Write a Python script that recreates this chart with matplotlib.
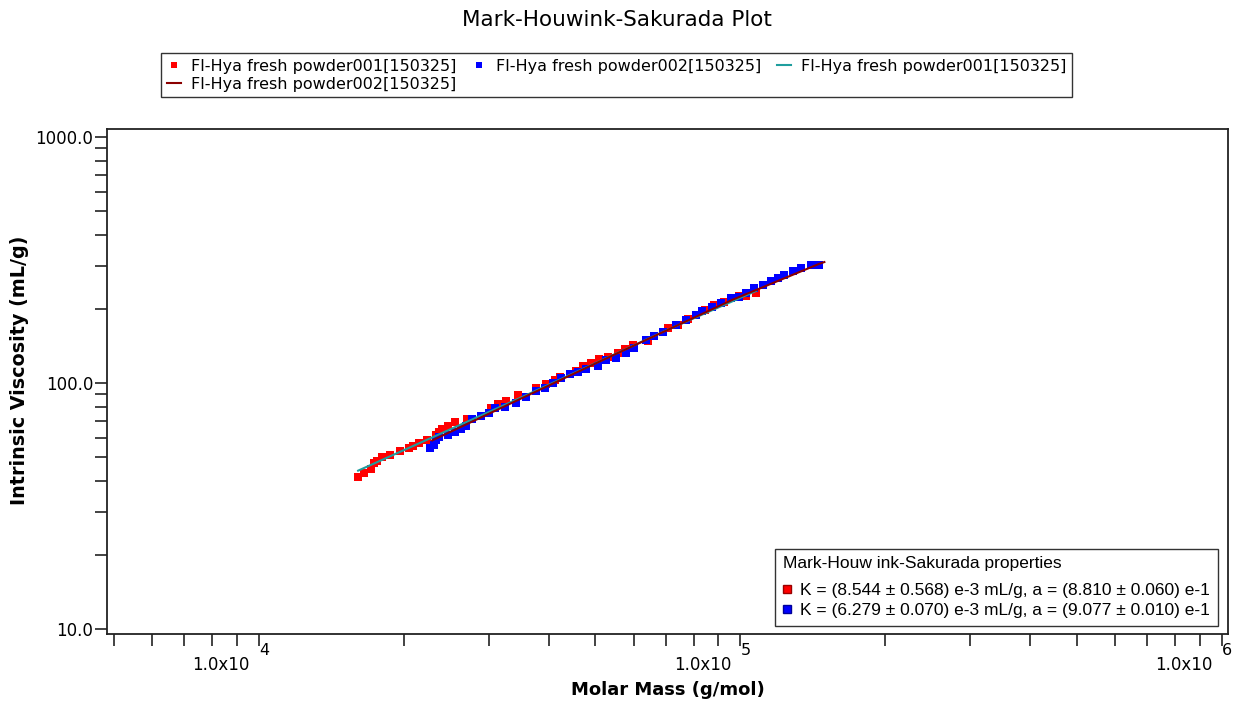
import matplotlib
matplotlib.use('Agg')
import matplotlib.pyplot as plt
import matplotlib.transforms as mtransforms
from matplotlib.lines import Line2D
from matplotlib.ticker import FixedLocator, LogLocator, NullFormatter

# data
mass_001 = [16070, 16510, 17080, 17350, 17630, 18020, 18700, 19610, 20470, 20890,
            21500, 22340, 23370, 23660, 24050, 24700, 25540, 27050, 30400, 31370,
            32540, 34510, 37690, 39540, 41130, 42130, 45470, 47080, 49010, 50750,
            53050, 55640, 57450, 59780, 64230, 70670, 74130, 77750, 84600, 88320,
            92640, 99520, 102750, 107800]
iv_001 = [41.7, 43.3, 44.7, 47.3, 48.3, 49.9, 51.1, 53.1, 54.4, 55.3,
          57.0, 58.7, 61.6, 63.6, 65.0, 67.1, 69.4, 71.6, 79.1, 82.4,
          85.0, 89.6, 96.0, 99.4, 103.1, 106.4, 112.2, 117.6, 120.6, 125.2,
          128.3, 132.4, 137.5, 143.1, 149.0, 167.4, 172.6, 182.0, 198.6, 208.1,
          212.7, 226.4, 226.4, 232.2]

mass_002 = [22630, 23100, 23370, 23660, 24700, 25500, 26330, 26970, 27760, 28970,
            30040, 30870, 32390, 34250, 35930, 37690, 39220, 40800, 42340, 44180,
            45980, 47860, 50580, 52640, 55050, 57730, 60060, 63740, 66310, 69000,
            73570, 77160, 80930, 83280, 87350, 91200, 95660, 99520, 102750, 106900,
            111240, 115800, 119510, 123400, 128400, 133650, 140220, 145900]
iv_002 = [54.4, 56.1, 58.8, 60.3, 61.6, 63.6, 65.0, 67.1, 71.4, 73.6,
          75.5, 79.1, 80.3, 82.9, 88.2, 92.5, 95.4, 100.6, 104.8, 108.8,
          111.5, 114.0, 117.6, 124.4, 126.4, 132.4, 138.8, 150.0, 154.7, 162.1,
          172.6, 180.9, 189.5, 195.5, 204.8, 211.5, 221.5, 224.9, 232.2, 243.3,
          250.9, 258.8, 267.2, 275.6, 284.2, 293.4, 302.6, 302.6]

fit_mass_001 = [16070, 34800, 70000, 107800]
fit_iv_001 = [44.1, 86.9, 163.5, 237.0]
fit_mass_002 = [22900, 50990, 96390, 145900, 149400]
fit_iv_002 = [58.5, 122.4, 218.3, 305.5, 310.4]

series_names = ['Fl-Hya fresh powder001[150325]', 'Fl-Hya fresh powder002[150325]']
mhs_title = 'Mark-Houw ink-Sakurada properties'
mhs_labels = ['K = (8.544 ± 0.568) e-3 mL/g, a = (8.810 ± 0.060) e-1',
              'K = (6.279 ± 0.070) e-3 mL/g, a = (9.077 ± 0.010) e-1']
x_major = [1e4, 1e5, 1e6]
x_exponents = ['4', '5', '6']
y_major = [10, 100, 1000]
y_labels = ['10.0', '100.0', '1000.0']

red = '#ff0000'
blue = '#0000ff'
teal = '#1f9e9e'
darkred = '#8b0000'
edge = '#222222'

fig = plt.figure(figsize=(12.34, 7.01), dpi=100)
ax = fig.add_axes([0.0865, 0.0956, 0.9087, 0.72])

ax.plot(mass_001, iv_001, ls='none', marker='s', ms=5.8, mew=0, color=red)
ax.plot(mass_002, iv_002, ls='none', marker='s', ms=5.8, mew=0, color=blue)
ax.plot(fit_mass_001, fit_iv_001, color=teal, lw=1.5)
ax.plot(fit_mass_002, fit_iv_002, color=darkred, lw=1.5)

ax.set_xscale('log')
ax.set_yscale('log')
ax.set_xlim(4830, 1.03e6)
ax.set_ylim(9.57, 1075)

ax.xaxis.set_major_locator(FixedLocator(x_major))
ax.xaxis.set_major_formatter(NullFormatter())
ax.xaxis.set_minor_locator(LogLocator(base=10, subs=range(2, 10)))
ax.xaxis.set_minor_formatter(NullFormatter())
ax.yaxis.set_major_locator(FixedLocator(y_major))
ax.set_yticklabels(y_labels)
ax.yaxis.set_minor_locator(LogLocator(base=10, subs=range(2, 10)))
ax.yaxis.set_minor_formatter(NullFormatter())
ax.tick_params(which='both', direction='out', length=8.3, width=1.2, color=edge)
ax.tick_params(axis='y', labelsize=12, pad=1.5)

for sp in ax.spines.values():
    sp.set_color(edge)
    sp.set_linewidth(1.3)

# x tick labels like "1.0x10" with a raised exponent beside the tick
xfig = mtransforms.blended_transform_factory(ax.transData, fig.transFigure)
for val, ex in zip(x_major, x_exponents):
    t1 = mtransforms.offset_copy(xfig, fig=fig, x=-9, y=0, units='dots')
    fig.text(val, 1 - 670 / 701, '1.0x10', transform=t1, ha='right', va='baseline', fontsize=12)
    t2 = mtransforms.offset_copy(xfig, fig=fig, x=0, y=0, units='dots')
    fig.text(val, 1 - 643 / 701, ex, transform=t2, ha='left', va='top', fontsize=11.5)

fig.text(617 / 1234, 1 - 20 / 701, 'Mark-Houwink-Sakurada Plot', ha='center', va='center', fontsize=15.5)
fig.text(668 / 1234, 1 - 690 / 701, 'Molar Mass (g/mol)', ha='center', va='center',
         fontsize=13, fontweight='bold')
fig.text(20 / 1234, 1 - 370 / 701, 'Intrinsic Viscosity (mL/g)', ha='center', va='center',
         rotation=90, fontsize=13.8, fontweight='bold')

# top legend, row-major order in 3 columns
h_red = Line2D([], [], ls='none', marker='s', ms=4, mew=0, color=red)
h_blue = Line2D([], [], ls='none', marker='s', ms=4, mew=0, color=blue)
h_teal = Line2D([], [], color=teal, lw=1.5)
h_dark = Line2D([], [], color=darkred, lw=1.5)
handles = [h_red, h_dark, h_blue, h_teal]
labels = [series_names[0], series_names[1], series_names[1], series_names[0]]
leg = fig.legend(handles, labels, ncol=3, loc='upper left',
                 bbox_to_anchor=(161 / 1234, 1 - 53 / 701), frameon=True, fancybox=False,
                 edgecolor='black', fontsize=11.5, handlelength=0.9, handletextpad=0.6,
                 columnspacing=1.0, borderpad=0.35, labelspacing=0.2, borderaxespad=0)
leg.get_frame().set_linewidth(1.0)

# properties box
p_red = Line2D([], [], ls='none', marker='s', ms=6, mew=1, color=red, markeredgecolor='#990000')
p_blue = Line2D([], [], ls='none', marker='s', ms=6, mew=1, color=blue, markeredgecolor='#000099')
mhs = ax.legend([p_red, p_blue], mhs_labels, title=mhs_title, loc='lower right',
                bbox_to_anchor=(0.991, 0.016), borderaxespad=0, alignment='left',
                prop=dict(family='Liberation Sans', size=12.5),
                title_fontproperties=dict(family='Liberation Sans', size=12.5),
                frameon=True, fancybox=False, edgecolor='black', handlelength=0.5,
                handletextpad=0.5, labelspacing=0.3, borderpad=0.45)
mhs._legend_box.sep = 8
mhs.get_frame().set_linewidth(1.0)

fig.savefig('out.png', dpi=100)
